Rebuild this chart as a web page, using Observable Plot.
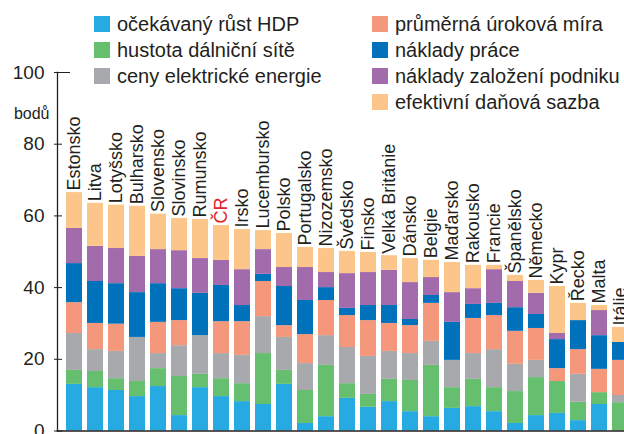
<!DOCTYPE html>
<html><head><meta charset="utf-8">
<script src="https://cdn.jsdelivr.net/npm/d3@7"></script>
<script src="https://cdn.jsdelivr.net/npm/@observablehq/plot@0.6"></script>
<style>
html,body{margin:0;padding:0;overflow:hidden;background:#fff;}
#wrap{position:relative;width:624px;height:434px;overflow:hidden;font-family:"Liberation Sans",Arial,sans-serif;}
#legend{position:absolute;left:0;top:0;width:624px;height:112px;pointer-events:none;}
.item{position:absolute;display:flex;align-items:center;font-size:20px;color:#231f20;white-space:nowrap;line-height:20px;height:20px;}
.sw{width:16px;height:16px;margin-right:7px;flex:none;}
</style></head><body>
<div id="wrap"><div id="chart"></div><div id="legend"></div></div>
<script>
const countries = ["Estonsko","Litva","Lotyšsko","Bulharsko","Slovensko","Slovinsko","Rumunsko","ČR","Irsko","Lucembursko","Polsko","Portugalsko","Nizozemsko","Švédsko","Finsko","Velká Británie","Dánsko","Belgie","Maďarsko","Rakousko","Francie","Španělsko","Německo","Kypr","Řecko","Malta","Itálie"];
const seriesNames = ["očekávaný růst HDP","hustota dálniční sítě","ceny elektrické energie","průměrná úroková míra","náklady práce","náklady založení podniku","efektivní daňová sazba"];
const seriesColors = ["#27aae1","#66bf6e","#a7a9ac","#f5977a","#0071bb","#a16bac","#fcc68b"];
const yTicks = [0,20,40,60,80,100];

const rustHDP   = [13.0,12.1,11.3, 9.6,12.4, 4.3,12.1, 9.6, 8.2, 7.4,13.0, 2.1, 4.0, 9.1, 6.6, 8.2, 5.4, 4.0, 6.3, 6.8, 5.4, 2.1, 4.3, 4.9, 2.9, 7.4, 0.0];
const dalnice   = [ 3.9, 4.5, 3.3, 4.2, 5.0,10.9, 3.7, 5.0, 5.0,14.2, 3.9, 9.2,14.3, 4.1, 3.6, 6.2, 8.7,14.3, 5.8, 7.6, 6.7, 8.9,10.6, 8.9, 5.1, 3.3, 7.9];
const elektrina = [10.3, 6.1, 7.6,12.3, 4.2, 8.6,10.8, 7.0, 7.9,10.3, 9.2, 7.5, 8.3,10.1,10.6, 7.8, 7.5, 6.7, 7.6, 7.2,10.6, 7.6, 4.8, 0.0, 7.8, 0.0, 2.0];
const urok      = [ 8.6, 7.3, 7.6, 0.0, 8.7, 7.0, 0.0, 8.9, 9.4, 9.8, 3.3, 8.1, 9.8, 8.9,10.0, 7.8, 7.8,10.6, 0.0, 9.8, 9.5, 9.2, 8.9, 3.6, 6.9, 6.5, 9.8];
const prace     = [10.9,11.7,11.3,12.5,10.8, 8.9,11.8,10.1, 4.5, 2.0,10.9, 9.5, 3.6, 2.0, 4.2, 5.0, 1.7, 2.2,10.6, 3.9, 3.4, 6.6, 3.9, 8.1, 8.1, 9.4, 5.0];
const zalozeni  = [ 9.8, 9.8, 9.8,10.1, 9.5,10.6, 9.7, 7.0,10.0, 6.9, 5.3, 9.2, 4.2, 9.7, 9.2, 9.8,10.3, 5.0, 8.3, 4.4, 9.4, 7.3, 5.9, 1.7, 0.0, 7.0, 0.0];
const dan       = [10.0,12.0,12.1,14.0, 9.9, 9.0,10.9, 9.7,11.2, 5.3, 9.5, 5.6, 6.7, 6.2, 5.6, 4.1, 6.7, 4.8, 8.4, 6.5, 1.2, 1.7, 3.6,13.1, 4.8, 1.4, 4.2];

const seriesValues = [rustHDP, dalnice, elektrina, urok, prace, zalozeni, dan];

const rows = [];
seriesNames.forEach((s, si) => countries.forEach((c, ci) => rows.push({country: c, series: s, value: seriesValues[si][ci]})));
const totals = countries.map((c, ci) => d3.sum(seriesValues, v => v[ci]));

const ink = "#231f20";
const plot = Plot.plot({
  width: 624, height: 434,
  marginTop: 72, marginBottom: 3.5, marginLeft: 57, marginRight: 0,
  style: {fontFamily: "'Liberation Sans', Arial, sans-serif", overflow: "hidden", background: "transparent", color: ink},
  x: {domain: countries, range: [56.7, 637.1], padding: 0.25, axis: null},
  y: {domain: [0, 100]},
  color: {domain: seriesNames, range: seriesColors},
  marks: [
    Plot.barY(rows, {x: "country", y: "value", fill: "series"}),
    Plot.frame({anchor: "left", stroke: ink, strokeWidth: 1.3}),
    Plot.frame({anchor: "bottom", stroke: ink, strokeWidth: 1.5}),
    Plot.axisY({ticks: yTicks, tickSize: 8, dx: 5, text: null, stroke: ink, label: null}),
    Plot.axisY({ticks: [100], tickSize: 13, dx: 13, text: null, stroke: ink, label: null}),
    Plot.axisY({ticks: yTicks, tickSize: 0, tickPadding: 13, fontSize: 19, fill: ink, label: null}),
    Plot.text(["bodů"], {frameAnchor: "top-left", dx: -8, dy: 35, textAnchor: "end", fontSize: 16, fill: ink}),
    Plot.text(countries, {x: d => d, y: (d, i) => totals[i], rotate: -90, textAnchor: "start", dy: -2, fontSize: 18,
      fill: d => d === "ČR" ? "#e4202a" : ink})
  ]
});
document.getElementById("chart").appendChild(plot);

// legend
const legend = document.getElementById("legend");
const colX = [94, 372];
seriesNames.forEach((s, i) => {
  const col = i < 3 ? 0 : 1;
  const row = i < 3 ? i : i - 3;
  const div = document.createElement("div");
  div.className = "item";
  div.style.left = colX[col] + "px";
  div.style.top = (14 + row * 26) + "px";
  const sw = document.createElement("span");
  sw.className = "sw";
  sw.style.background = seriesColors[i];
  const t = document.createElement("span");
  t.textContent = s;
  div.appendChild(sw); div.appendChild(t);
  legend.appendChild(div);
});
</script>
</body></html>
